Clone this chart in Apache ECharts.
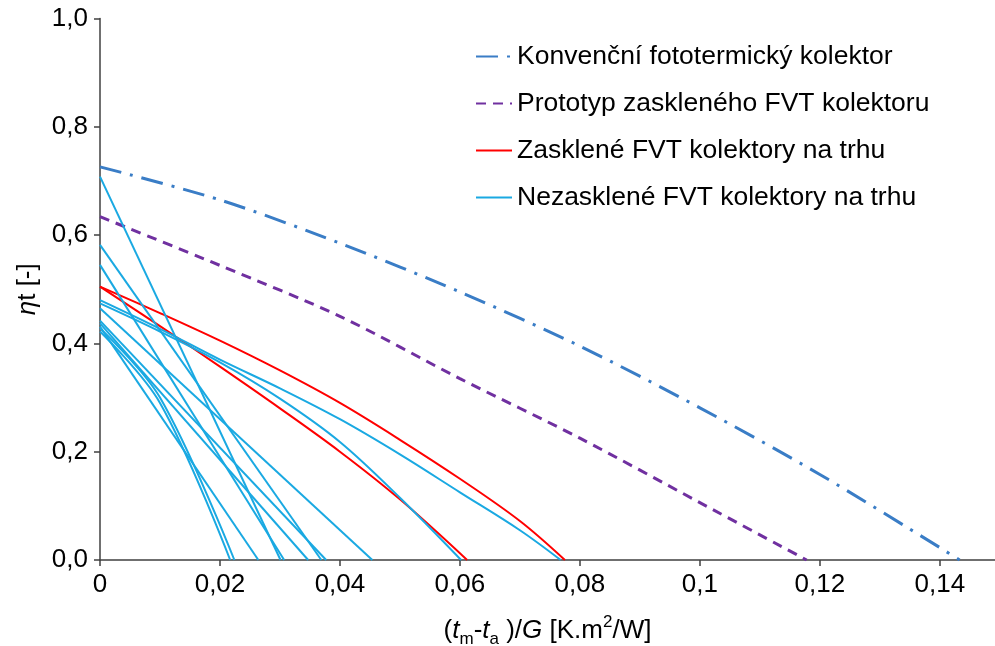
<!DOCTYPE html>
<html>
<head>
<meta charset="utf-8">
<script src="https://cdn.jsdelivr.net/npm/echarts@6/dist/echarts.min.js"></script>
<style>
  html, body { margin: 0; padding: 0; background: #fff; }
  #chart { width: 995px; height: 646px; }
</style>
</head>
<body>
<div id="chart"></div>
<script>
// hodnoty: x = (tm-ta)/G, y = účinnost
const konvencni = [[0, 0.726], [0.02, 0.665], [0.04, 0.585], [0.06, 0.495], [0.08, 0.395], [0.10, 0.281], [0.12, 0.158], [0.14, 0.023], [0.1433, 0]]
const prototyp = [[0, 0.634], [0.02, 0.544], [0.04, 0.45], [0.06, 0.335], [0.08, 0.225], [0.10, 0.106], [0.1178, 0]]
const zasklene = [
  [[0, 0.505], [0.01, 0.456], [0.02, 0.405], [0.03, 0.35], [0.04, 0.29], [0.05, 0.222], [0.06, 0.15], [0.07, 0.072], [0.0775, 0]],
  [[0, 0.505], [0.01, 0.432], [0.02, 0.357], [0.03, 0.28], [0.04, 0.2], [0.05, 0.112], [0.0612, 0]],
]
const nezasklene = [
  [[0, 0.708], [0.0301, 0]],
  [[0, 0.582], [0.0369, 0]],
  [[0, 0.545], [0.0307, 0]],
  [[0, 0.48], [0.01, 0.427], [0.02, 0.37], [0.03, 0.317], [0.04, 0.26], [0.05, 0.195], [0.06, 0.125], [0.07, 0.055], [0.0768, 0]],
  [[0, 0.474], [0.01, 0.422], [0.02, 0.365], [0.03, 0.298], [0.04, 0.218], [0.05, 0.115], [0.0602, 0]],
  [[0, 0.465], [0.0454, 0]],
  [[0, 0.442], [0.0377, 0]],
  [[0, 0.437], [0.0347, 0]],
  [[0, 0.431], [0.0264, 0]],
  [[0, 0.428], [0.01, 0.3], [0.0224, 0]],
  [[0, 0.422], [0.01, 0.29], [0.0217, 0]],
]
const nazvy = [
  'Konvenční fototermický kolektor',
  'Prototyp zaskleného FVT kolektoru',
  'Zasklené FVT kolektory na trhu',
  'Nezasklené FVT kolektory na trhu',
]

const font = 'Liberation Sans'
const osa = '#404040'

const series = []
series.push({
  name: nazvy[0],
  type: 'line',
  smooth: 0.3,
  showSymbol: false,
  symbol: 'none',
  lineStyle: { color: '#3a7dc6', width: 3, type: [22, 9, 3, 9] },
  itemStyle: { color: '#3a7dc6' },
  data: konvencni,
})
series.push({
  name: nazvy[1],
  type: 'line',
  smooth: 0.3,
  showSymbol: false,
  symbol: 'none',
  lineStyle: { color: '#7030a0', width: 3, type: [10, 7] },
  itemStyle: { color: '#7030a0' },
  data: prototyp,
})
zasklene.forEach((d) => {
  series.push({
    name: nazvy[2],
    type: 'line',
    smooth: 0.35,
    showSymbol: false,
    symbol: 'none',
    lineStyle: { color: '#ff0000', width: 2 },
    itemStyle: { color: '#ff0000' },
    data: d,
  })
})
nezasklene.forEach((d) => {
  series.push({
    name: nazvy[3],
    type: 'line',
    smooth: d.length > 2 ? 0.35 : false,
    showSymbol: false,
    symbol: 'none',
    lineStyle: { color: '#1aa9e2', width: 2 },
    itemStyle: { color: '#1aa9e2' },
    data: d,
  })
})

const chart = echarts.init(document.getElementById('chart'))
chart.setOption({
  animation: false,
  textStyle: { fontFamily: font },
  grid: { left: 100, right: 0, top: 18.5, bottom: 86, outerBoundsMode: 'none', containLabel: false },
  legend: {
    data: nazvy,
    orient: 'vertical',
    left: 470,
    top: 38,
    itemGap: 20,
    itemWidth: 36,
    itemHeight: 14,
    itemStyle: { opacity: 0, borderWidth: 0 },
    textStyle: { fontSize: 26.5, color: '#000', fontFamily: font },
  },
  xAxis: {
    type: 'value',
    min: 0,
    max: 0.1492,
    interval: 0.02,
    splitLine: { show: false },
    axisLine: { lineStyle: { color: osa, width: 1.5 } },
    axisTick: { show: true, length: 6, lineStyle: { color: osa, width: 1.5 } },
    axisLabel: {
      fontSize: 26,
      color: '#000',
      margin: 12,
      showMaxLabel: false,
      formatter: v => String(+v.toFixed(2)).replace('.', ','),
    },
    name: '({i|t}{sub|m}-{i|t}{sub|a} )/{i|G} [K.m{sup|2}/W]',
    nameLocation: 'middle',
    nameGap: 54,
    nameTextStyle: {
      fontSize: 26,
      color: '#000',
      lineHeight: 34,
      rich: {
        i: { fontSize: 26, fontStyle: 'italic', color: '#000', fontFamily: font },
        sub: { fontSize: 17, lineHeight: 17, verticalAlign: 'bottom', color: '#000', fontFamily: font },
        sup: { fontSize: 17, lineHeight: 17, verticalAlign: 'top', color: '#000', fontFamily: font },
      },
    },
  },
  yAxis: {
    type: 'value',
    min: 0,
    max: 1,
    interval: 0.2,
    splitLine: { show: false },
    axisLine: { show: true, lineStyle: { color: osa, width: 1.5 } },
    axisTick: { show: true, length: 6, lineStyle: { color: osa, width: 1.5 } },
    axisLabel: {
      fontSize: 26,
      color: '#000',
      margin: 12,
      formatter: v => v.toFixed(1).replace('.', ','),
    },
    name: '{i|η}t [-]',
    nameLocation: 'middle',
    nameRotate: 90,
    nameGap: 48,
    nameTextStyle: {
      fontSize: 26,
      color: '#000',
      rich: {
        i: { fontSize: 26, fontStyle: 'italic', color: '#000', fontFamily: font },
      },
    },
  },
  series: series,
})
</script>
</body>
</html>
